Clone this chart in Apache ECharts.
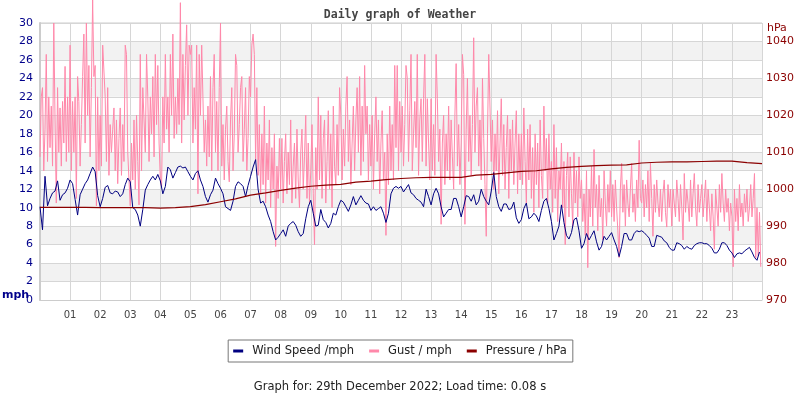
<!DOCTYPE html>
<html>
<head>
<meta charset="utf-8">
<script src="https://cdn.jsdelivr.net/npm/echarts@6/dist/echarts.min.js"></script>
<style>
  html, body {margin: 0; padding: 0; background: #fff;}
  #chart {width: 800px; height: 400px;}
</style>
</head>
<body>
<div id="chart"></div>
<script>
// wind speed, one reading every 5 minutes (12 per hour)
const windSpeed = [
  10.1, 7.6, 13.4, 10.2, 11.0, 11.6, 11.8, 12.9, 10.8, 11.4, 11.6, 12.1,
  13.0, 12.6, 10.9, 9.2, 11.4, 12.0, 12.6, 13.0, 13.7, 14.4, 13.9, 11.3,
  10.1, 11.0, 12.2, 12.4, 11.6, 11.5, 11.8, 11.7, 11.2, 11.5, 12.5, 13.2,
  12.8, 10.0, 9.8, 9.2, 8.0, 9.8, 11.9, 12.5, 13.0, 13.4, 13.0, 13.6,
  12.9, 11.5, 12.3, 14.4, 14.1, 13.2, 13.8, 14.4, 14.5, 14.3, 14.4, 13.9,
  13.4, 13.0, 13.7, 14.0, 13.0, 12.3, 11.2, 10.6, 11.4, 11.9, 13.2, 12.6,
  12.1, 11.5, 10.1, 9.9, 9.7, 10.7, 12.3, 12.8, 12.6, 12.3, 11.2, 12.4,
  13.4, 14.4, 15.2, 12.0, 10.5, 10.7, 10.1, 9.2, 8.5, 7.4, 6.5, 6.8,
  7.2, 7.6, 6.9, 8.0, 8.3, 8.5, 8.1, 7.4, 6.9, 7.2, 8.8, 10.1,
  10.8, 9.4, 8.0, 8.1, 9.8, 8.7, 8.4, 7.8, 8.3, 9.4, 9.2, 10.1,
  10.8, 10.6, 10.1, 9.6, 10.3, 11.2, 10.3, 10.8, 11.3, 10.8, 10.5, 10.4,
  9.7, 10.1, 9.7, 9.9, 10.1, 9.4, 8.4, 9.4, 11.5, 12.1, 12.3, 12.1,
  12.3, 11.7, 12.1, 12.5, 11.6, 11.4, 11.0, 10.8, 10.6, 10.1, 12.0, 11.2,
  10.3, 11.5, 12.1, 11.5, 10.1, 9.0, 9.4, 9.8, 9.8, 11.0, 11.0, 10.1,
  9.0, 10.1, 11.3, 11.2, 10.7, 11.4, 10.3, 10.7, 12.0, 11.2, 10.7, 10.3,
  11.8, 13.8, 11.2, 10.1, 9.6, 10.4, 10.4, 9.8, 9.9, 10.6, 8.9, 8.3,
  8.7, 9.9, 10.5, 8.8, 9.0, 9.4, 9.1, 8.5, 9.7, 10.7, 11.0, 9.9,
  8.5, 6.5, 7.2, 8.0, 10.3, 8.4, 7.0, 6.6, 7.3, 8.7, 8.9, 7.5,
  5.6, 6.1, 7.2, 6.5, 7.0, 7.5, 6.3, 5.4, 5.8, 6.9, 6.5, 6.9,
  7.3, 6.5, 5.8, 4.7, 5.8, 7.2, 7.2, 6.5, 6.5, 7.2, 7.5, 7.4,
  7.5, 7.3, 7.0, 6.7, 5.8, 5.8, 7.0, 6.9, 6.8, 6.4, 6.2, 5.7,
  5.4, 5.4, 6.2, 6.1, 5.9, 5.5, 5.8, 5.6, 5.5, 5.9, 6.1, 6.2,
  6.2, 6.1, 6.1, 5.9, 5.6, 5.1, 5.1, 5.5, 6.2, 6.2, 5.9, 5.4,
  5.1, 4.6, 5.0, 5.1, 5.0, 5.3, 5.5, 5.7, 5.2, 4.6, 4.3, 5.2
]

// gust, one reading every 2.5 minutes (24 per hour)
const gust = [
  15.5, 22.0, 23.0, 14.0, 18.5, 26.6, 15.0, 22.0, 16.5, 21.0, 14.5, 30.0, 19.5, 10.5, 23.0, 16.0, 20.8, 14.5, 21.5, 17.0, 25.3, 15.0, 22.0, 16.0,
  27.6, 14.0, 21.5, 16.0, 22.0, 11.0, 24.2, 21.5, 14.5, 19.0, 24.2, 28.8, 17.0, 30.0, 20.0, 25.4, 15.5, 23.0, 32.5, 24.2, 25.4, 10.2, 22.0, 14.0,
  20.0, 14.5, 27.6, 27.6, 22.0, 15.0, 23.0, 13.5, 19.0, 16.0, 18.5, 20.8, 14.0, 19.5, 12.6, 17.5, 20.8, 13.5, 19.0, 15.0, 27.6, 26.6, 16.0, 13.0,
  10.2, 17.0, 13.0, 19.5, 12.0, 20.0, 15.0, 10.3, 26.6, 14.0, 23.0, 23.0, 16.0, 26.6, 22.0, 15.0, 22.0, 18.0, 24.2, 15.5, 26.6, 19.0, 25.4, 17.0,
  13.0, 12.3, 22.0, 17.0, 26.6, 18.5, 22.0, 16.0, 26.6, 20.0, 28.8, 17.5, 22.0, 18.0, 24.0, 19.0, 32.2, 17.0, 26.6, 19.5, 25.4, 29.8, 20.0, 27.6,
  26.6, 27.6, 17.0, 23.0, 18.5, 27.6, 11.5, 26.6, 20.0, 27.6, 27.6, 16.0, 19.5, 14.5, 21.0, 15.5, 24.2, 14.0, 23.0, 26.6, 16.0, 21.5, 14.0, 23.0,
  30.0, 14.5, 19.0, 13.0, 18.5, 21.0, 15.0, 12.8, 19.5, 23.0, 14.0, 18.0, 26.6, 25.4, 16.0, 19.0, 23.0, 24.2, 15.0, 18.5, 23.0, 14.0, 17.5, 24.2,
  22.0, 27.6, 28.8, 26.6, 15.0, 23.0, 13.5, 19.0, 11.5, 18.0, 12.5, 21.0, 10.5, 17.0, 13.0, 19.5, 10.0, 16.5, 12.0, 18.0, 5.8, 14.5, 11.0, 17.5,
  12.0, 17.5, 10.5, 15.0, 18.0, 11.5, 16.0, 12.5, 19.5, 10.5, 14.5, 17.0, 11.0, 18.5, 13.0, 10.0, 16.0, 18.5, 12.0, 15.5, 20.0, 11.0, 17.0, 10.5,
  14.0, 19.0, 11.5, 6.0, 16.5, 12.0, 22.0, 13.0, 20.0, 11.0, 17.5, 19.5, 10.5, 15.0, 20.5, 12.0, 18.0, 10.0, 21.0, 14.5, 12.5, 19.0, 13.5, 23.0,
  20.0, 13.0, 18.5, 14.5, 21.0, 24.2, 15.0, 19.5, 12.5, 17.0, 21.0, 14.0, 19.5, 23.0, 16.0, 24.2, 13.5, 21.0, 15.0, 25.4, 18.0, 21.0, 13.0, 19.0,
  14.5, 20.0, 12.0, 18.0, 22.0, 15.0, 19.5, 11.5, 17.0, 20.5, 13.0, 16.0, 7.0, 18.0, 12.5, 21.0, 14.0, 19.0, 13.0, 25.4, 16.5, 25.4, 14.0, 21.5,
  16.0, 21.0, 14.5, 19.0, 25.4, 24.0, 15.0, 20.5, 26.6, 14.0, 18.0, 21.5, 16.5, 26.6, 13.5, 19.5, 21.8, 15.0, 21.8, 26.6, 14.5, 21.8, 17.0, 13.0,
  21.8, 14.0, 19.0, 13.5, 26.6, 21.8, 15.0, 18.5, 8.2, 17.0, 20.0, 12.5, 18.0, 14.0, 21.0, 13.0, 19.5, 15.5, 12.0, 20.0, 25.6, 14.5, 19.0, 12.5,
  17.0, 26.6, 24.4, 8.2, 18.5, 24.0, 15.0, 20.0, 13.5, 19.0, 28.4, 16.0, 21.0, 23.0, 14.5, 19.5, 13.0, 24.0, 17.5, 12.5, 6.9, 18.0, 26.6, 26.6,
  15.0, 19.5, 12.0, 18.0, 14.0, 20.5, 11.5, 17.0, 21.8, 13.5, 19.0, 12.0, 16.5, 20.0, 11.0, 18.5, 14.0, 19.5, 12.5, 17.0, 20.5, 11.5, 18.0, 13.0,
  18.0, 12.5, 20.8, 15.0, 10.5, 18.5, 13.0, 19.0, 11.0, 16.5, 9.5, 18.0, 12.5, 17.0, 10.0, 19.5, 13.5, 11.0, 21.0, 14.0, 17.5, 10.5, 18.0, 12.0,
  15.0, 9.5, 19.0, 11.0, 16.5, 8.5, 14.0, 12.0, 17.0, 10.0, 15.0, 6.0, 13.5, 16.0, 9.0, 15.5, 11.5, 8.0, 16.0, 10.5, 14.0, 9.0, 15.5, 11.0,
  13.0, 8.5, 11.5, 7.0, 14.0, 3.5, 12.0, 9.0, 14.5, 8.0, 16.3, 10.0, 12.5, 7.5, 13.5, 9.0, 11.0, 6.5, 14.0, 10.5, 8.0, 12.5, 9.5, 14.0,
  9.0, 12.5, 8.5, 13.0, 10.0, 7.5, 4.6, 12.0, 14.8, 9.5, 12.5, 8.0, 13.0, 10.5, 9.0, 12.0, 14.8, 9.5, 11.5, 8.5, 13.0, 10.0, 17.3, 11.0,
  10.5, 13.0, 9.0, 12.5, 10.0, 14.0, 8.5, 14.8, 11.0, 6.9, 12.5, 9.5, 13.0, 10.5, 9.0, 12.0, 8.5, 11.5, 13.0, 9.5, 7.9, 12.5, 10.0, 12.0,
  8.0, 12.0, 10.5, 9.0, 13.0, 11.0, 8.5, 12.5, 10.0, 6.5, 13.7, 9.5, 12.0, 10.5, 8.5, 13.0, 9.0, 11.5, 13.7, 10.0, 8.0, 12.5, 9.5, 11.0,
  12.5, 9.0, 11.0, 13.0, 8.5, 12.0, 10.0, 7.5, 11.5, 9.0, 5.5, 12.0, 10.0, 8.0, 12.5, 9.5, 13.7, 10.5, 8.5, 12.0, 9.5, 11.0, 7.5, 10.5,
  9.0, 3.6, 12.0, 8.5, 11.0, 7.5, 12.5, 9.0, 10.5, 8.0, 11.5, 9.5, 12.0, 8.5, 10.0, 12.5, 9.0, 11.0, 13.7, 4.5, 10.0, 4.8, 9.5, 3.6
]

// pressure every 30 minutes, 00:00 .. 24:00
const pressure = [
  995.1, 995.1, 995.1, 995.1, 995.0, 995.0, 995.0, 995.0, 994.9, 995.0,
  995.3, 995.8, 996.6, 997.4, 998.4, 999.0, 999.7, 1000.3, 1000.8, 1001.1,
  1001.3, 1001.9, 1002.2, 1002.6, 1002.9, 1003.1, 1003.2, 1003.2, 1003.2, 1003.8,
  1004.0, 1004.4, 1004.8, 1005.0, 1005.5, 1005.9, 1006.2, 1006.4, 1006.5, 1006.6,
  1007.1, 1007.3, 1007.4, 1007.4, 1007.5, 1007.6, 1007.6, 1007.2, 1006.9
]

const hourLabels = ['01','02','03','04','05','06','07','08','09','10','11','12',
  '13','14','15','16','17','18','19','20','21','22','23']

const seriesNames = ['Wind Speed /mph', 'Gust / mph', 'Pressure / hPa']

const windData = windSpeed.map((v, i) => [i / 12, v])
const gustData = gust.map((v, i) => [i / 24, v])
const pressureData = pressure.map((v, i) => [i / 2, v])

const chart = echarts.init(document.getElementById('chart'), null, {renderer: 'canvas'})
chart.setOption({
  animation: false,
  title: {
    text: 'Daily graph of Weather',
    left: 'center',
    top: 4,
    textStyle: {fontFamily: 'DejaVu Sans Mono', fontWeight: 'bold', fontSize: 11.5, color: '#444'}
  },
  grid: {left: 40, right: 38, top: 23, bottom: 100, show: true, borderColor: '#ccc', borderWidth: 1},
  legend: {
    data: seriesNames,
    left: 'center',
    top: 340,
    borderColor: '#777',
    borderWidth: 1,
    padding: [5, 6, 5, 5],
    itemGap: 15,
    itemWidth: 10,
    itemHeight: 3,
    icon: 'rect',
    textStyle: {fontFamily: 'DejaVu Sans', fontSize: 11.5, color: '#222', padding: [0, 0, 0, 4]}
  },
  xAxis: {
    type: 'value',
    min: 0,
    max: 24,
    interval: 1,
    axisLine: {show: true, lineStyle: {color: '#ccc'}},
    axisTick: {show: false},
    splitLine: {show: true, lineStyle: {color: '#d6d6d6'}},
    axisLabel: {
      color: '#444',
      fontFamily: 'DejaVu Sans',
      fontSize: 10,
      margin: 10,
      formatter: v => (v >= 1 && v <= 23) ? hourLabels[v - 1] : ''
    }
  },
  yAxis: [
    {
      type: 'value',
      min: 0,
      max: 30,
      interval: 2,
      position: 'left',
      axisLine: {show: true, lineStyle: {color: '#ccc', width: 2}},
      axisTick: {show: false},
      splitLine: {show: true, lineStyle: {color: '#d6d6d6'}},
      splitArea: {show: true, areaStyle: {color: ['#ffffff', '#f2f2f2']}},
      axisLabel: {color: '#00008b', fontFamily: 'DejaVu Sans', fontSize: 11, margin: 7}
    },
    {
      type: 'value',
      min: 970,
      max: 1045,
      interval: 10,
      position: 'right',
      axisLine: {show: false},
      axisTick: {show: false},
      splitLine: {show: false},
      axisLabel: {
        color: '#8b0000',
        fontFamily: 'DejaVu Sans',
        fontSize: 11,
        margin: 4,
        formatter: v => (v % 10 === 0 ? String(v) : '')
      }
    }
  ],
  series: [
    {
      name: 'Gust / mph',
      type: 'line',
      data: gustData,
      showSymbol: false,
      clip: false,
      color: '#ff88aa',
      lineStyle: {width: 1, color: '#ff88aa'}
    },
    {
      name: 'Wind Speed /mph',
      type: 'line',
      data: windData,
      showSymbol: false,
      color: '#000080',
      lineStyle: {width: 1, color: '#000080'}
    },
    {
      name: 'Pressure / hPa',
      type: 'line',
      yAxisIndex: 1,
      data: pressureData,
      showSymbol: false,
      color: '#8b0000',
      lineStyle: {width: 1.2, color: '#8b0000'}
    }
  ],
  graphic: [
    {
      type: 'text', left: 2, top: 290,
      style: {text: 'mph', font: 'bold 11px DejaVu Sans', fill: '#00008b'}
    },
    {
      type: 'text', left: 767, top: 23,
      style: {text: 'hPa', font: '11px DejaVu Sans', fill: '#8b0000'}
    },
    {
      type: 'text', left: 'center', top: 381,
      style: {text: 'Graph for: 29th December 2022; Load time: 0.08 s', font: '11.5px DejaVu Sans', fill: '#222'}
    }
  ]
})
</script>
</body>
</html>
